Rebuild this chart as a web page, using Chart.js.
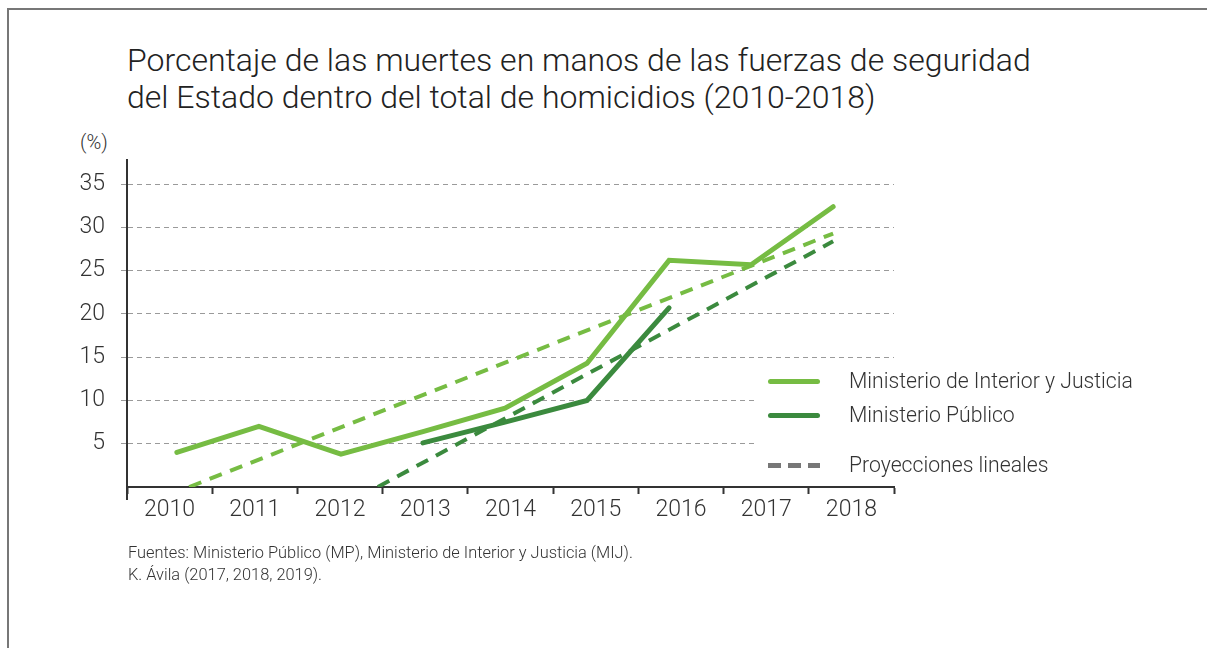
<!DOCTYPE html>
<html>
<head>
<meta charset="utf-8">
<script src="https://cdn.jsdelivr.net/npm/chart.js@4.4.1/dist/chart.umd.min.js"></script>
<style>
  html, body { margin: 0; padding: 0; background: #fff; }
  body { width: 1207px; height: 648px; position: relative; overflow: hidden; font-family: Roboto, "Noto Sans", sans-serif; color: #333; }
  #frame { position: absolute; left: 7px; top: 8px; right: -5px; bottom: -5px; border-top: 2px solid #777; border-left: 2px solid #777; }
  #title { position: absolute; left: 127px; top: 42px; font-size: 32px; font-weight: 300; line-height: 37px; color: #222; white-space: nowrap; }
  #unit { position: absolute; left: 80px; top: 130px; font-size: 20px; font-weight: 300; color: #333; }
  #chartBox { position: absolute; left: 0; top: 0; width: 1207px; height: 648px; }
  #legend { position: absolute; left: 756px; top: 364px; width: 400px; height: 118px; font-size: 21.2px; font-weight: 300; color: #333; }
  #legend .cover { position: absolute; left: 0; top: 0; width: 140px; height: 118px; background: #fff; }
  #legend .row { position: absolute; left: 12px; height: 24px; white-space: nowrap; }
  #legend .sw { position: absolute; left: 0; top: 10px; width: 52px; height: 5px; border-radius: 3px; }
  #legend .txt { position: absolute; left: 81px; top: 0; line-height: 24px; }
  #note { position: absolute; left: 128px; top: 542px; font-size: 16.4px; font-weight: 300; line-height: 22px; color: #333; white-space: nowrap; }
</style>
</head>
<body>
<div id="frame"></div>
<div id="title">Porcentaje de las muertes en manos de las fuerzas de seguridad<br>del Estado dentro del total de homicidios (2010-2018)</div>
<div id="unit">(%)</div>
<div id="chartBox"><canvas id="chart" width="1207" height="648"></canvas></div>
<div id="legend">
  <div class="cover"></div>
  <div class="row" style="top:5px"><div class="sw" style="background:#76bc43"></div><div class="txt">Ministerio de Interior y Justicia</div></div>
  <div class="row" style="top:39px"><div class="sw" style="background:#3b8a3e"></div><div class="txt">Ministerio Público</div></div>
  <div class="row" style="top:89px"><div class="sw" style="background:repeating-linear-gradient(90deg,#777 0 13px,transparent 13px 20px);border-radius:0"></div><div class="txt">Proyecciones lineales</div></div>
</div>
<div id="note">Fuentes: Ministerio Público (MP), Ministerio de Interior y Justicia (MIJ).<br>K. Ávila (2017, 2018, 2019).</div>

<script>
// Muertes por fuerzas de seguridad (% del total de homicidios)

const years = [2010, 2011, 2012, 2013, 2014, 2015, 2016, 2017, 2018];
const yearLabels = ["2010", "2011", "2012", "2013", "2014", "2015", "2016", "2017", "2018"];

// Ministerio de Interior y Justicia
const mij = [4.0, 7.0, 3.8, 6.4, 9.1, 14.3, 26.2, 25.7, 32.4];
// Ministerio Público (only 2013-2016)
const mp = [null, null, null, 5.1, 7.5, 10.0, 20.7, null, null];

// linear projections (start / end points)
const mijProjX = [2010.15, 2018];
const mijProjY = [0, 29.3];
const mpProjX = [2012.45, 2018];
const mpProjY = [0, 28.4];

const yTicks = [5, 10, 15, 20, 25, 30, 35];

const LIGHT = "#76bc43";
const DARK = "#3b8a3e";

function toPoints(xs, ys) {
    return xs.map((x, i) => ({ x: x, y: ys[i] }));
}

// extends the y axis line a bit below the baseline
const axisExtend = {
    id: "axisExtend",
    afterDraw(chart) {
        const a = chart.chartArea;
        const ctx = chart.ctx;
        ctx.save();
        ctx.strokeStyle = "#333";
        ctx.lineWidth = 2;
        ctx.beginPath();
        ctx.moveTo(a.left, a.bottom);
        ctx.lineTo(a.left, a.bottom + 13);
        ctx.stroke();
        ctx.restore();
    }
};

const ctx = document.getElementById("chart").getContext("2d");

new Chart(ctx, {
    type: "line",
    data: {
        labels: yearLabels,
        datasets: [
            {
                label: "Ministerio de Interior y Justicia",
                data: toPoints(years, mij),
                xAxisID: "xl",
                borderColor: LIGHT,
                borderWidth: 5,
                pointRadius: 0,
                borderJoinStyle: "miter",
                borderCapStyle: "round",
                order: 1
            },
            {
                label: "Ministerio Público",
                data: toPoints(years, mp),
                xAxisID: "xl",
                borderColor: DARK,
                borderWidth: 5,
                pointRadius: 0,
                spanGaps: false,
                borderJoinStyle: "miter",
                borderCapStyle: "round",
                order: 1
            },
            {
                label: "Proyección MIJ",
                data: toPoints(mijProjX, mijProjY),
                xAxisID: "xl",
                borderColor: LIGHT,
                borderWidth: 4,
                borderDash: [13, 9],
                pointRadius: 0,
                order: 2
            },
            {
                label: "Proyección MP",
                data: toPoints(mpProjX, mpProjY),
                xAxisID: "xl",
                borderColor: DARK,
                borderWidth: 4,
                borderDash: [13, 9],
                pointRadius: 0,
                order: 2
            }
        ]
    },
    options: {
        responsive: false,
        animation: false,
        layout: { padding: { left: 0, right: 313, top: 160, bottom: 121 } },
        plugins: {
            legend: { display: false },
            tooltip: { enabled: false }
        },
        scales: {
            xl: {
                type: "linear",
                display: false,
                min: 2009.392,
                max: 2018.742
            },
            x: {
                type: "category",
                offset: true,
                afterFit: s => { s.height = 40; },
                grid: {
                    display: true,
                    offset: true,
                    drawOnChartArea: false,
                    tickLength: 7,
                    tickColor: "#333",
                    tickWidth: 2
                },
                border: { display: true, color: "#333", width: 2 },
                ticks: {
                    color: "#333",
                    font: { family: "Roboto", size: 23, weight: 300 },
                    padding: 2,
                    maxRotation: 0
                }
            },
            y: {
                min: 0,
                max: 37.8,
                afterFit: s => { s.width = 127; },
                afterBuildTicks: s => {
                    s.ticks = yTicks.map(v => ({ value: v }));
                },
                grid: {
                    color: "#9a9a9a",
                    lineWidth: 1,
                    tickLength: 6,
                    tickColor: "#9a9a9a"
                },
                border: { display: true, color: "#333", width: 2, dash: [5, 4] },
                ticks: {
                    color: "#333",
                    font: { family: "Roboto", size: 23, weight: 300 },
                    padding: 16
                }
            }
        }
    },
    plugins: [axisExtend]
});
</script>
</body>
</html>
